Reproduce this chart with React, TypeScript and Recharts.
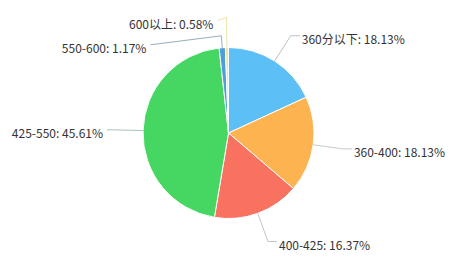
import { PieChart, Pie, Cell } from 'recharts'

// 分数段分布
const names = ['360分以下', '360-400', '400-425', '425-550', '550-600', '600以上']
const shares = [18.13, 18.13, 16.37, 45.61, 1.17, 0.58]
const colors = ['#5cbff6', '#fdb34f', '#f8725f', '#45d761', '#4d9fdb', '#f5e39a']
const lineColors = ['#b9c2c7', '#c9ccc6', '#c4c4c4', '#a9c4c2', '#97aec0', '#efe2a8']

// 小扇区标签避让
const labelShift: Record<string, { dx: number; dy: number }> = {
  '550-600': { dx: -65, dy: 30 },
  '600以上': { dx: -3, dy: 6 },
}

const RAD = Math.PI / 180

const chartData = names.map((name, i) => ({ name, value: shares[i] }))

const renderLabel = (props: any) => {
  const { cx, cy, midAngle, outerRadius, index } = props
  const name = names[index]
  const cos = Math.cos(-midAngle * RAD)
  const sin = Math.sin(-midAngle * RAD)
  const sx = cx + outerRadius * cos
  const sy = cy + outerRadius * sin
  let ex = cx + (outerRadius + 30) * cos
  let ey = cy + (outerRadius + 30) * sin
  const right = cos >= 0
  const shift = labelShift[name]
  let ty = ey + 3
  let tx = right ? ex + 11 : ex - 10
  if (shift) {
    ty = ey + shift.dy
    if (ty - 12 > ey) {
      const r = (ty - 12 - cy) / sin
      ex = cx + r * cos
      ey = ty - 12
    }
    tx = ex - 10 + shift.dx
  }
  const lx = right ? tx - 2 : tx + 4
  return (
    <g>
      <polyline
        points={`${sx},${sy} ${ex},${ey} ${lx},${ty - 3}`}
        fill="none"
        stroke={lineColors[index]}
        strokeWidth={1}
      />
      <text
        x={tx}
        y={ty}
        textAnchor={right ? 'start' : 'end'}
        dominantBaseline="central"
        fill="#333"
        fontSize={12}
        fontFamily='"Noto Sans CJK SC", "Noto Sans", sans-serif'
      >
        {`${name}: ${shares[index]}%`}
      </text>
    </g>
  )
}

export default function App() {
  return (
    <div style={{ width: 464, height: 266, background: '#fff' }}>
      <style>{'body{margin:0}'}</style>
      <PieChart width={464} height={266} margin={{ top: 0, right: 0, bottom: 0, left: 0 }}>
        <Pie
          data={chartData}
          dataKey="value"
          nameKey="name"
          cx={228.5}
          cy={133}
          outerRadius={85.5}
          startAngle={90}
          endAngle={-270}
          stroke="#fff"
          strokeWidth={1}
          label={renderLabel}
          labelLine={false}
          isAnimationActive={false}
        >
          {chartData.map((d, i) => (
            <Cell key={d.name} fill={colors[i]} />
          ))}
        </Pie>
      </PieChart>
    </div>
  )
}
